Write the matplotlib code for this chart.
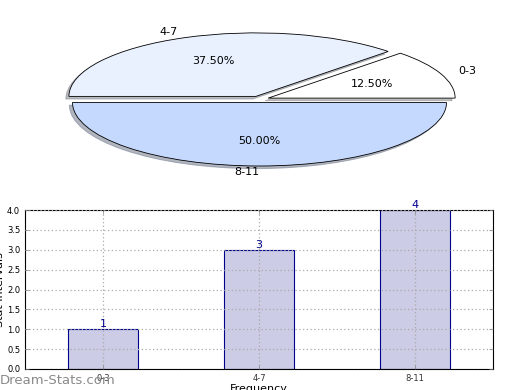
import matplotlib
matplotlib.use("Agg")
import matplotlib.pyplot as plt

# data
categories = ['0-3', '4-7', '8-11']
counts = [1, 3, 4]
pie_colors = ['#FFFFFF', '#E9F1FF', '#C5D9FF']

fig = plt.figure(figsize=(5.2, 3.9), dpi=100)

# pie (stretched ellipse)
ax1 = fig.add_axes([25.75 / 520, (390 - 178.7) / 390, 467.5 / 520, 158.75 / 390])
wedges, texts, autotexts = ax1.pie(counts, labels=categories, colors=pie_colors,
                                   explode=[0.05, 0.05, 0.05], autopct='%1.2f%%',
                                   shadow={'ox': -0.012, 'oy': -0.03, 'shade': 0.5},
                                   startangle=0,
                                   wedgeprops={'edgecolor': 'black', 'linewidth': 0.6},
                                   textprops={'fontsize': 8})
texts[2].set_ha('right')
ax1.set_aspect('auto')
ax1.set_xlim(-1.25, 1.25)
ax1.set_ylim(-1.25, 1.25)
ax1.axis('off')

# bar chart
ax2 = fig.add_axes([25 / 520, 21 / 390, 468 / 520, 159 / 390])
x = range(len(categories))
ax2.bar(x, counts, width=0.45, color='#CCCCE6', edgecolor='#00008B', linewidth=0.8, zorder=2)
for i, v in zip(x, counts):
    ax2.text(i, v, str(v), ha='center', va='bottom', fontsize=8, color='#00008B')
ax2.set_xlim(-0.5, 2.5)
ax2.set_ylim(0, 4)
ax2.set_xticks(list(x))
ax2.set_xticklabels(categories, fontsize=6, color='#333333')
ax2.set_yticks([0, 0.5, 1, 1.5, 2, 2.5, 3, 3.5, 4])
ax2.set_yticklabels(['%.1f' % t for t in ax2.get_yticks()], fontsize=6)
ax2.tick_params(direction='in', length=3, right=True, top=True, width=0.5, color='gray')
ax2.grid(True, linestyle=(0, (1, 2)), color='#AAAAAA', linewidth=0.9, zorder=3)
ax2.set_axisbelow(False)
ax2.set_xlabel('Frequency', fontsize=8, labelpad=1)
ax2.set_ylabel('Stat Intervals', fontsize=8, labelpad=0)
ax2.yaxis.set_label_coords(-0.043, 0.5)

fig.text(0.0, 0.025, 'Dream-Stats.com', fontsize=9.5, color='#8A8A8A', ha='left', va='center')

fig.savefig('out.png', dpi=100)
